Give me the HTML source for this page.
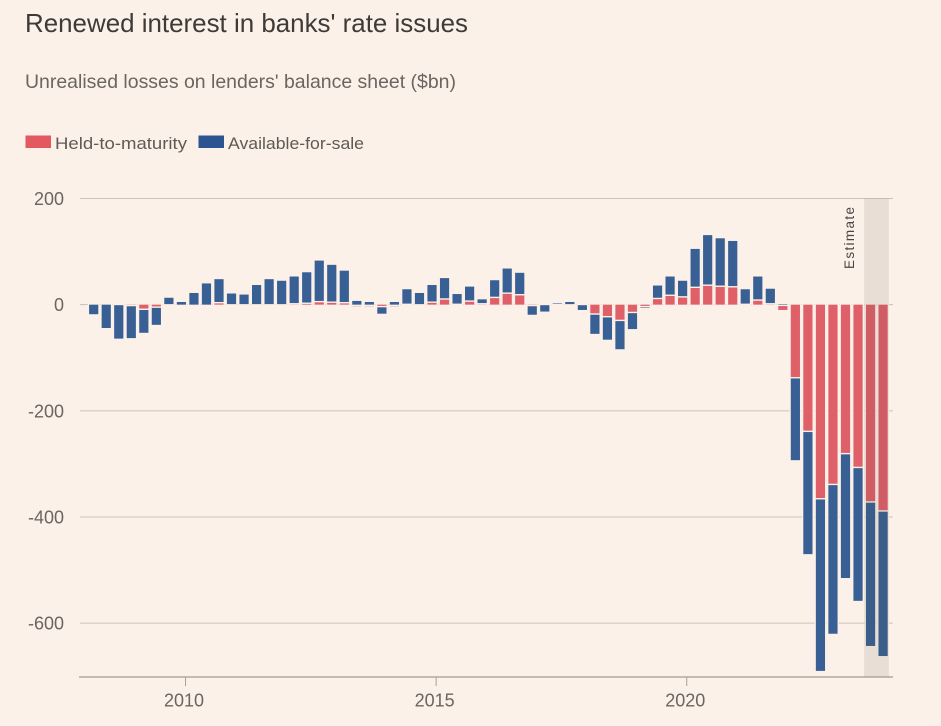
<!DOCTYPE html>
<html lang="en">
<head>
<meta charset="utf-8">
<title>Renewed interest in banks' rate issues</title>
<style>
html,body{margin:0;padding:0;background:#fcf1e8;}
svg{display:block;font-family:"Liberation Sans",sans-serif;}
</style>
</head>
<body>
<svg id="chart" xmlns="http://www.w3.org/2000/svg" width="941" height="726" viewBox="0 0 941 726">
  <rect x="0" y="0" width="941" height="726" fill="#fcf1e8"/>
  <text x="25" y="32" font-size="26" fill="#3d3a38" textLength="443" lengthAdjust="spacingAndGlyphs">Renewed interest in banks' rate issues</text>
  <text x="25" y="88" font-size="19.5" fill="#6b6561" textLength="431" lengthAdjust="spacingAndGlyphs">Unrealised losses on lenders' balance sheet ($bn)</text>
  <g>
    <rect x="25.5" y="135.5" width="25.5" height="12.5" fill="#e2595f"/>
    <text x="55" y="149" font-size="16.5" fill="#5f5a56" textLength="132" lengthAdjust="spacingAndGlyphs">Held-to-maturity</text>
    <rect x="198.5" y="135.5" width="25.5" height="12.5" fill="#2c5490"/>
    <text x="228" y="149" font-size="16.5" fill="#5f5a56" textLength="136" lengthAdjust="spacingAndGlyphs">Available-for-sale</text>
  </g>
  <g id="grid"></g>
  <g id="bars"></g>
  <g id="overlay"></g>
  <g id="axes"></g>
  <text transform="translate(854 269) rotate(-90)" font-size="13.5" fill="#4a4542" textLength="62" lengthAdjust="spacing">Estimate</text>
</svg>
<script>
const startYear = 2008;
const estimateStartIndex = 62;
const heldToMaturity = [
  0, 0, -1, -3, -10, -6, 1, 0, 0, 0, 5, 1, 1, 1, 1, 1,
  3, 4, 7, 6, 5, -3, -3, -5, -3, 2, 1, 6, 12, 2, 8, 3,
  15, 23, 20, -3, -1, 2, 1, -1, -19, -24, -31, -16, -5, 13,
  19, 16, 34, 38, 36, 35, 2, 10, 3, -10, -139, -240, -367, -340, -282, -308,
  -373, -390
];
const availableForSale = [
  -18, -44, -63, -60, -43, -32, 12, 5, 22, 40, 43, 20, 18, 36, 47, 44,
  50, 57, 76, 69, 59, 7, 5, -12, 5, 27, 21, 31, 38, 18, 26, 7,
  31, 45, 40, -16, -12, 1, 4, -9, -36, -42, -53, -30, -1, 23,
  34, 29, 71, 93, 89, 85, 27, 43, 27, 1, -154, -230, -323, -280, -233, -250,
  -270, -272
];
const yTicks = [200, 0, -200, -400, -600];
const yTickLabels = ["200", "0", "-200", "-400", "-600"];
const xTickYears = [2010, 2015, 2020];
const xTickLabels = ["2010", "2015", "2020"];

const SVGNS = "http://www.w3.org/2000/svg";
const plotLeft = 80, plotRight = 893, plotTop = 198.5, plotBottom = 677;
const yMax = 200, yMin = -701.5;
function yScale(v) { return plotTop + (yMax - v) * (plotBottom - plotTop) / (yMax - yMin); }
const pxPerQuarter = 12.53;
const firstBarX = 93.7;
function xIndex(i) { return firstBarX + i * pxPerQuarter; }
function xYear(year) { return xIndex((year - startYear) * 4 - 0.67); }
function make(tag, attrs, parent) {
  const el = document.createElementNS(SVGNS, tag);
  for (const k in attrs) el.setAttribute(k, attrs[k]);
  parent.appendChild(el);
  return el;
}
const gridG = document.getElementById("grid");
const barsG = document.getElementById("bars");
const overlayG = document.getElementById("overlay");
const axesG = document.getElementById("axes");

yTicks.forEach(function (t, i) {
  const y = yScale(t);
  const line = make("line", {x1: plotLeft, x2: plotRight, y1: y, y2: y, stroke: t === 0 ? "#c9bdb2" : "#cdc3b9", "stroke-width": 1}, gridG);
  
  
  const label = make("text", {x: 64, y: y + 6.5, "text-anchor": "end", "font-size": 18, fill: "#6b6561"}, axesG);
  
  
  label.textContent = yTickLabels[i];
});

const barW = 9.2;
function drawSegment(i, from, to, color, series) {
  if (from === to) return;
  const y0 = yScale(Math.max(from, to));
  const y1 = yScale(Math.min(from, to));
  const r = make("rect", {
    x: xIndex(i) - barW / 2, y: y0, width: barW, height: Math.max(y1 - y0, 0.5),
    fill: color, stroke: "#fcf1e8", "stroke-width": 2.8, "paint-order": "stroke"
  }, barsG);
  
  
}
heldToMaturity.forEach(function (h, i) {
  const a = availableForSale[i];
  const sameSign = (h >= 0) === (a >= 0);
  const aFrom = sameSign ? h : 0;
  drawSegment(i, 0, h, "#e0606a", 'bar-held-to-maturity');
  drawSegment(i, aFrom, aFrom + a, "#386094", 'bar-available-for-sale');
});

const bandX0 = xIndex(estimateStartIndex) - 6.5;
const bandX1 = xIndex(heldToMaturity.length - 1) + 5.8;
const band = make("rect", {x: bandX0, y: plotTop, width: bandX1 - bandX0, height: plotBottom - plotTop, fill: "#54493c", "fill-opacity": 0.11}, overlayG);



const axisLine = make("line", {x1: 79, x2: plotRight, y1: plotBottom, y2: plotBottom, stroke: "#8f857c", "stroke-width": 1}, axesG);


xTickYears.forEach(function (yr, i) {
  const x = xYear(yr);
  const tick = make("line", {x1: x, x2: x, y1: plotBottom, y2: plotBottom + 9, stroke: "#a89e95", "stroke-width": 1}, axesG);
  
  
  const label = make("text", {x: x - 1.5, y: 706.5, "text-anchor": "middle", "font-size": 18, fill: "#6b6561"}, axesG);
  
  
  label.textContent = xTickLabels[i];
});
</script>
</body>
</html>
